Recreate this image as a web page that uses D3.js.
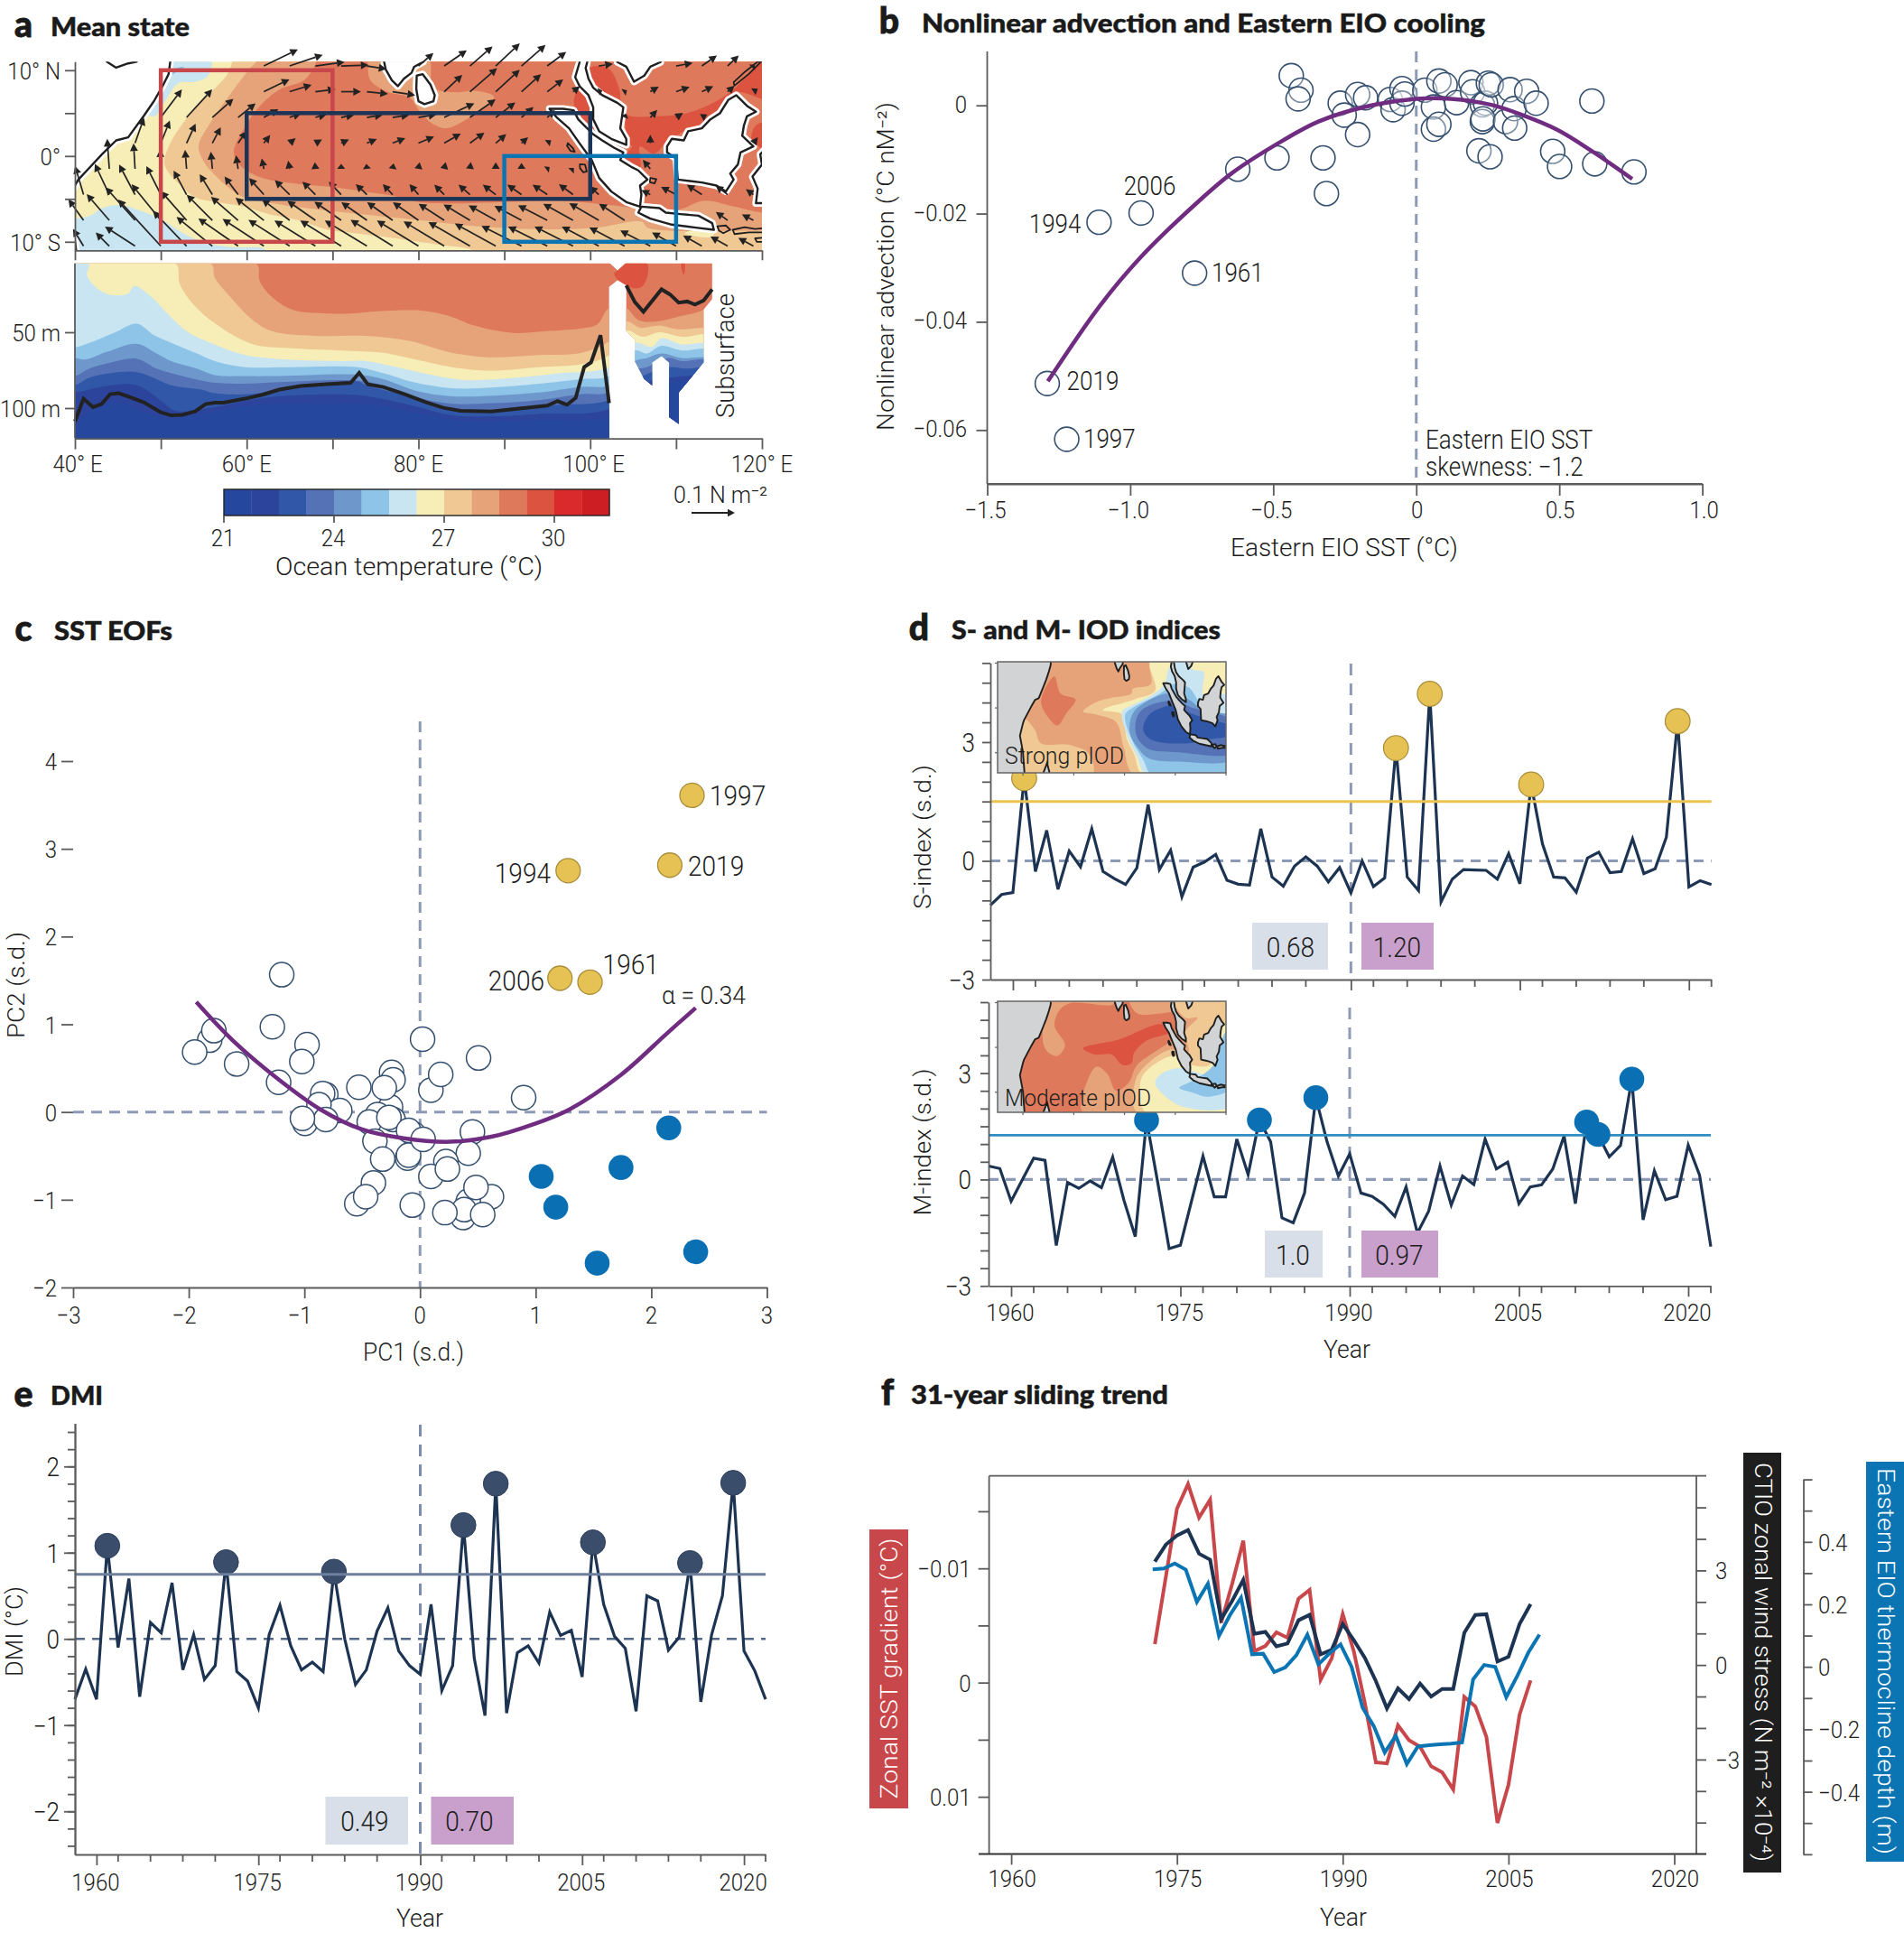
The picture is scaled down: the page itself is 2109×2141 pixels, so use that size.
<!DOCTYPE html>
<html><head><meta charset="utf-8">
<script src="https://cdn.jsdelivr.net/npm/d3@7/dist/d3.min.js"></script>
<style>html,body{margin:0;padding:0;background:#fff}svg{display:block}text{font-family:Roboto,"Noto Sans",sans-serif;font-weight:300;fill:#1c1c1c}</style>
</head><body><svg id="c" width="2109" height="2141" viewBox="0 0 2109 2141"></svg>
<script>
const n=null;
// ---------- colour scale
const tempColors=["#26479e","#2c449b","#3158a8","#5472b5","#6e97cc","#8ec4e8","#c8e5f1","#f6edb7","#efc893","#e6a279","#df795c","#dc5440","#da2a2b","#cc1e23"];
const tempStart=21, tempStep=0.75, tempTicks=[21,24,27,30];
const [cDeep,cDark,cB3,cB4,cB5,cSky,cPale,cYel,cTan,cOra,cRed,cHot]=tempColors;
// ---------- panel a: map bands (lon,lat)
const mapPaleSW=[[38,-7.3],[40,-7.3],[41.8,-6.95],[43.2,-6.07],[45.3,-5.72],[47.75,-6.42],[50.2,-7.47],[52.67,-9.05],[55.1,-10.1],[58.3,-10.63],[62.1,-10.88],[62.1,-12],[38,-12]];
const mapPaleNW=[[52,12],[55.8,12],[55.5,9.37],[54.07,8.67],[52,8.46],[50.6,6.56],[49.2,4.63],[47,6]];
const mapSkyNW=[[50.6,8.85],[52.7,10.4],[51.5,10],[49.5,7]];
const mapTan=[[58.3,12],[58.3,11],[57.75,9.54],[56.2,7.79],[54.07,5.68],[52.67,3.93],[51.26,1.82],[50.4,-.63],[50.74,-1.68],[52.3,-3.44],[54.07,-4.84],[56.5,-5.37],[59.7,-5.9],[62.5,-6.77],[66,-7.47],[69.5,-8.6],[73,-9.05],[77.2,-9.58],[80.7,-10.1],[83.2,-10.45],[86.3,-11],[87,-12],[125,-12],[125,12]];
const mapOrange=[[61.1,12],[61.1,11],[60.4,10.25],[57.75,6.74],[55.8,3.93],[54.4,1.12],[55.1,-.81],[55.8,-1.68],[57.6,-3.44],[59.7,-4.84],[63.2,-5.54],[69.9,-6.42],[80,-7.47],[86.7,-8.18],[93.7,-8.53],[100.7,-8.35],[106,-7.65],[106.7,-8.35],[120,-8.7],[125,-8.7],[125,12]];
const mapRed=[[68.1,12],[68.1,11],[66.7,8.84],[63.9,7.79],[61.4,5.68],[59.7,3.23],[58.5,.42],[59.3,-1.16],[61.8,-2.56],[66,-3.26],[69.9,-3.61],[73.7,-4.14],[77.2,-4.67],[80,-5.37],[83.2,-5.54],[90.2,-5.37],[95.4,-5.19],[100.7,-5.54],[105.6,-6.07],[110.2,-6.25],[113.3,-5.2],[116.8,-5.9],[120,-6.6],[125,-6.6],[125,12]];
const mapOrangeLobe=[[74.1,12],[74.1,11],[74.4,8.84],[76.5,7.44],[79,6.8],[80,5.4],[81.4,3.93],[83.2,3.23],[85.6,4.28],[87.7,5.68],[88.8,6.9],[86.7,7.6],[84.2,7.44],[81.75,8],[81,12]];
const mapHotA=[[98.1,6.56],[98.8,7.8],[100,7.1],[100,4.3],[101.05,2.53],[98.6,4.8]];
const mapHotB=[[100,10.25],[102.1,10.25],[103.4,7.8],[103.6,6.2],[104.4,4.8],[107.7,4.63],[111.2,4.98],[114.7,6.4],[116.9,7.95],[119.5,10.7],[120,11],[122,11],[122,6.4],[117.2,7.44],[116.1,6.74],[113.3,3.93],[111.2,3.05],[108.8,1.47],[107.4,.25],[105.8,1.1],[105.8,-1.33],[103.9,-.1],[104.9,1.12],[104.2,1.47],[104,3.93],[101.1,7.5]];
const mapHotC=[[119.3,3.58],[120.5,3.9],[120.5,.8],[118.8,1.9]];
const mapHotD=[[105.6,-3],[106.6,-4.2],[105.6,-5.8],[105,-5.8]];
const mapYellowE=[[111,-9],[113,-8.5],[114.4,-8.7],[114.2,-9.4],[112,-9.3]];
// ---------- coasts (lon,lat)
const coastAfrica=[[51.1,12],[51.1,11],[50.9,9.54],[50.2,8.14],[49.2,6.4],[48.1,4.8],[46.2,2.18],[44.8,1.82],[43.2,.25],[41.4,-1.68],[40.4,-2.74],[40,-3.44],[38.8,-6.2],[40,-9.9],[40.6,-14.5],[40.6,-17],[20,-17],[20,12]];
const coastArabia=[[43.7,11],[44.8,10.3],[46.2,10.8],[47.2,11],[47.2,12],[43.7,12]];
const coastIndia=[[76,12],[76,11],[76.2,10.07],[76.9,8.84],[77.6,8.14],[78.3,9],[79.2,9.7],[79.5,10.4],[80.6,11],[80.6,12]];
const coastLanka=[[79.8,9.37],[80.5,9.54],[81.4,8.32],[81.9,7.09],[81.75,6.39],[80.7,6.04],[80,6.39],[79.75,7.79]];
const coastSumatra=[[95.26,5.51],[96.14,4.46],[97.54,3.23],[98.77,1.47],[100.18,-.46],[101.05,-2.56],[102.46,-4.14],[104.2,-5.37],[105.8,-5.9],[105.96,-4.49],[105.8,-3.44],[106.67,-2.74],[105.6,-1.68],[104.9,-1.33],[103.5,-.46],[103.86,.42],[102.8,.95],[101.4,1.82],[100.35,2.53],[99.3,3.58],[98.6,4.28],[98.07,5.33],[96.84,5.51]];
const coastMalay=[[98.77,12],[98.77,10.95],[98.25,9.19],[98.77,8.14],[99.8,7.09],[100.35,5.68],[100.35,4.28],[101.05,2.88],[102.46,2],[104.2,1.3],[104.2,2],[103.5,3.23],[103.86,5.68],[103.16,6.2],[101.4,7.09],[100.35,7.96],[99.8,9],[99.47,10.25],[99.65,10.95],[99.65,12]];
const coastIndochina=[[103.16,12],[103.16,10.95],[104.2,10.42],[105.1,8.67],[106.3,9.37],[107,10.42],[108.2,10.95],[108.2,12]];
const coastBorneo=[[108.95,1.12],[109.5,2],[110.9,1.82],[111.4,2.88],[113,3.23],[114,4.28],[115.1,4.98],[116.1,6.56],[117,7.09],[118.25,5.86],[119.3,5.16],[118.25,4.63],[117.9,3.58],[117.7,2.35],[119,1.12],[117.5,.42],[117.2,-.98],[116.3,-2.04],[116.7,-2.74],[115.8,-4.14],[114.7,-3.44],[113,-3.09],[111.6,-2.91],[110.2,-2.74],[110,-.28],[108.95,.42]];
const coastJava=[[105.6,-6.6],[105.96,-5.9],[108.07,-6.07],[108.8,-6.6],[110.5,-6.77],[112.6,-6.95],[114.2,-7.82],[114.4,-8.6],[112.3,-8.35],[109.5,-8],[107,-7.3],[106.3,-6.95]];
const coastBali=[[114.8,-8.2],[115.8,-8.1],[116.3,-8.6],[115.5,-9],[115,-8.7]];
const coastFlores=[[116.6,-8.6],[118,-8.3],[119.2,-8.5],[120.5,-8.4],[120.5,-8.9],[118.5,-8.9],[116.8,-9.1]];
const coastSumba=[[119.2,-9.6],[120.5,-9.5],[120.5,-10],[119.4,-10]];
const coastBanka=[[107,-2.55],[107.7,-2.7],[107.5,-3.2],[106.95,-3.05]];
const coastSiberut=[[97.4,1.5],[98,.9],[98.2,.5],[97.7,.6],[97.3,1.2]];
const coastNias=[[98.8,-.95],[99.4,-1],[99.6,-1.8],[99.2,-1.9],[98.8,-1.4]];
const coastPalawan=[[116.8,8.2],[118.5,9.6],[119.9,11],[119.5,11],[118,9.8],[116.7,8.6]];
const coastSulawesi=[[120.5,.9],[119.8,.2],[120,-1],[118.9,-2.4],[119.5,-3.8],[119.3,-5.5],[122,-5.5],[122,.9]];
const islets=[coastSiberut,coastNias,coastBanka,coastBali,coastFlores,coastSumba,coastPalawan,coastLanka];
const landMain=[coastAfrica,coastArabia,coastIndia,coastSumatra,coastMalay,coastIndochina,coastBorneo,coastJava,coastSulawesi];
// ---------- wind stress, columns every 3 deg, units 0.1/144 N m-2
const windLons=[41,44,47,50,53,56,59,62,65,68,71,74,77,80,83,86,89,92,95,98,101,104,107,110,113,116,119];
const windLats=[10.5,7.5,4.5,1.5,-1.5,-4.5,-7.5,-10.5];
const windRef=144;
const windU=[
[n,n,n,n,n,n,n,113,110,97,91,65,n,50,75,75,80,80,63,n,47,n,n,55,50,37,5],
[n,n,n,n,n,n,n,85,73,67,66,70,75,n,60,90,80,65,53,23,12,8,28,45,38,23,15],
[n,n,n,70,85,70,58,48,38,37,43,52,55,60,100,85,65,40,25,n,n,5,23,23,18,n,n],
[n,n,30,30,30,28,28,21,20,22,26,33,42,52,55,48,35,22,13,n,n,n,0,n,n,n,15],
[n,-7,-5,-2,-5,-5,-7,-7,-5,-2,0,-2,3,4,5,3,0,0,8,3,n,n,-25,n,n,n,n],
[-28,-48,-53,-48,-43,-42,-45,-49,-49,-43,-41,-37,-33,-30,-33,-38,-43,-47,-49,-47,-30,n,-30,-50,-50,-40,-25],
[-50,-75,-98,-97,-85,-85,-90,-94,-92,-93,-89,-85,-85,-85,-85,-88,-90,-90,-97,-99,-98,-85,n,n,n,-39,-38],
[-35,-45,-100,-142,-112,-119,-132,-137,-137,-136,-136,-140,-140,-138,-135,-138,-136,-133,-130,-128,-123,-117,-100,-80,-62,-57,-50]];
const windV=[
[n,n,n,n,n,n,n,55,37,13,3,-10,n,43,52,65,75,70,47,n,7,n,n,10,35,35,5],
[n,n,n,n,n,n,n,41,23,8,0,-7,-12,n,56,78,73,58,41,18,3,5,17,16,18,20,10],
[n,n,n,93,93,62,47,27,13,10,8,8,8,10,47,60,50,35,25,n,n,13,25,15,10,n,n],
[n,n,85,75,65,53,40,27,17,12,12,14,17,22,32,35,30,20,10,n,n,n,28,n,n,n,20],
[n,100,85,65,63,57,45,35,27,22,17,17,18,22,23,23,22,20,6,3,n,n,30,n,n,n,n],
[95,102,100,95,80,68,60,55,48,43,43,35,35,35,33,33,33,33,33,35,28,n,15,26,33,30,18],
[70,87,110,120,97,85,78,75,70,65,62,60,60,60,55,53,50,48,50,55,57,55,n,n,n,28,20],
[57,45,65,155,117,97,92,90,87,85,85,85,87,85,82,80,75,67,65,65,65,62,52,45,35,32,27]];
const boxRed=[50,70,-10,10], boxNavy=[60,100,-5,5], boxBlue=[90,110,-10,0];
// ---------- panel a: subsurface section (lon,depth)
const secOutline=[[40,4.6],[102.3,4.6],[103.2,9.2],[104.1,4.6],[114.2,4.6],[114.2,28.1],[113.2,35.1],[113.2,70],[110.3,89.8],[110.3,110.4],[109.2,106.0],[109.2,70],[108.3,65.6],[107.2,70],[107.2,84.9],[106.3,80.9],[105.2,69],[105.2,55],[104.2,49],[104.2,19.1],[103.2,15.6],[102.2,20.1],[102.2,120],[40,120]];
const secHotA=[[104,4.6],[106.6,4.6],[106.7,12.2],[106,20.1],[105,21],[104.2,19.1],[103.2,15.6],[102.8,11],[103.2,9.2]];
const secHotB=[[110.6,4.6],[111,4.6],[110.9,12.2],[110.7,9.5]];
const secOrange=[[61.1,4.6],[61.5,16.1],[62.8,26.1],[65.3,35.1],[68.8,37.5],[72.1,37.6],[75.4,36.1],[80.4,35.7],[83.4,39],[86.5,45.6],[91,50.4],[95.5,49],[99,47.4],[100.8,45],[102.2,34.1],[104.2,34.1],[105.6,42],[107.6,43],[110.1,40],[113.2,35.1],[114.6,28.1],[115,125],[38,125],[38,4.6]];
const secTan=[[55.8,4.6],[56.3,14.1],[58,26.1],[60.3,40],[62.8,49],[67.8,52.4],[73.9,52.4],[78.9,55.6],[83.9,63.5],[88.2,66.5],[94,65],[99,63.5],[102.2,56],[104.2,43],[105.8,47],[108.1,45.6],[110.1,48],[113.2,47],[114.6,47],[115,125],[38,125],[38,4.6]];
const secYellow=[[51.7,4.6],[52.2,18.1],[54.2,34.1],[57.3,48],[60.8,58],[64.8,60.4],[70.9,62],[75.9,63.5],[78.9,67],[83.9,73],[88.2,75.3],[94,73],[99,71],[102.2,65],[104.2,49],[106.1,53],[108.1,50],[110.6,53],[114.6,53],[115,125],[38,125],[38,4.6]];
const secPale=[[41.6,4.6],[41.4,12.2],[42.2,19.1],[43.9,25.1],[46.2,24.5],[46.9,19.5],[49,27.1],[50.5,36.1],[53.2,50],[55.8,57],[59.8,65],[64.8,68],[70.9,69],[73.9,69],[76.9,72.3],[81.4,78],[85.4,81.5],[91.5,79.9],[96.5,76.9],[102.2,73],[105.2,57],[107.2,59.6],[108.3,54],[110.6,58],[114.6,59],[115,125],[38,125],[38,4.6]];
const secSky=[[38,60],[40,60],[41.7,57],[44.7,50],[47.2,44.4],[49.2,52],[51.2,57],[54.2,64],[56.3,69],[59.8,73],[64.8,73],[72.9,73],[75.9,77],[79.4,82.9],[83.9,86.9],[88.9,86.3],[94,83.9],[99,80.9],[102.2,78.9],[105.2,62],[106.6,64],[108.3,59],[110.6,62],[114.6,63],[115,125],[38,125]];
const secMid=[[38,67],[40,67],[41.2,68],[43.7,63],[47.2,57.6],[49.5,64],[51.2,69],[54.2,74],[56.3,78.3],[59.8,78.9],[63.8,78.9],[72.9,78],[75.9,80.9],[79.9,88.8],[83.9,92.2],[88.9,91.8],[94,89.8],[99,86],[102.2,84.9],[105.2,69],[106.6,67],[108.3,64],[110.6,67],[114.6,69],[115,125],[38,125]];
const secB4=[[38,79],[40,78.9],[41.7,74],[44.2,70],[47.2,67.5],[49.5,74],[51.2,77],[54.7,81.9],[56.3,83.3],[59.8,83.9],[63.8,82.9],[72.9,81.9],[76.4,85.9],[80.4,93.8],[83.9,97.2],[88.9,96.8],[94,94.8],[99,90.8],[102.2,89.8],[105.2,75],[106.6,73],[109.1,67],[110.6,69],[114.6,70],[115,125],[38,125]];
const secB3=[[38,85],[40,84.9],[41.7,79.9],[44.2,76.9],[47.2,76.3],[49.5,80.9],[51.2,84.9],[54.7,87.8],[56.3,90.2],[60.3,90.8],[64.8,86.9],[68.8,83.9],[72.9,82.3],[73.9,84.9],[77.9,90.8],[81.4,97.8],[86.5,101.8],[91.5,99.2],[96.5,97.8],[102.2,94.8],[106.1,78.9],[109.1,73],[111.1,74],[114.6,75],[115,125],[38,125]];
const secDark=[[38,90],[40,89.8],[43.2,85.9],[47.2,84.9],[50.2,95.8],[51.7,101.8],[55.8,99.8],[61.3,93.8],[66.8,91.2],[72.9,91.4],[78.9,97.8],[83.9,104.8],[88.9,105.4],[94,103.8],[102.2,100.8],[108.1,78.9],[109.1,79.9],[111.1,78.9],[114.6,79.9],[115,125],[38,125]];
const secDeep=[[38,115],[40,112.7],[41.7,101.8],[44.7,95.8],[47.7,101.8],[50.7,106.8],[55.8,102.8],[61.3,97.8],[68.8,97.2],[74.9,97.8],[81.9,105.8],[86.5,108.8],[94,107.8],[102.2,105.8],[109.1,83.9],[114.6,83.9],[115,125],[38,125]];
const thermoMain=[[40,108.8],[41,93.8],[42.1,99.4],[43.1,97.4],[44.1,90.8],[45.1,90.2],[46.2,92.4],[48,96.2],[50,102.8],[51.2,104.8],[52.5,104.4],[54,102.2],[55.2,97.4],[56.3,96.4],[57.3,96.4],[59.8,93.8],[61.8,91.2],[63.8,87.8],[66.3,85.4],[69.3,84.2],[72.1,83.3],[73.1,76.7],[74.1,84.3],[75.9,86.1],[78.4,90.8],[80.9,96.2],[82.9,99.8],[84.9,101.8],[88.5,102.2],[92,100.2],[95,98.4],[96.2,95.4],[97.3,97.8],[98.3,93.4],[99.3,72.9],[100.1,69.9],[101.2,52],[102.2,96.8]];
const thermoEast=[[104.2,19.1],[105.2,30.1],[106.2,36.5],[108.3,21.7],[109.3,25.1],[110.3,30.5],[111.3,29.7],[112.2,31.7],[113.2,29.1],[114.2,21.7]];
// ---------- panel b
const bYears=[[-1.109,-.0216,"1994"],[-.962,-.0199,"2006"],[-.775,-.031,"1961"],[-1.29,-.0514,"2019"],[-1.222,-.0617,"1997"]];
const bOther=[[-.437,.0055],[-.403,.0028],[-.413,.0012],[-.266,.0004],[-.252,-.0018],[-.205,.002],[-.177,.0014],[-.205,-.0054],[-.624,-.0118],[-.487,-.0097],[-.326,-.0097],[-.314,-.0163],[-.091,.0011],[-.081,-.0008],[-.05,.0031],[-.05,.0004],[-.04,.0021],[.03,.0028],[.06,-.0003],[.06,-.0044],[.079,-.0035],[.079,.0045],[.101,.0038],[.141,.0005],[.191,.0042],[.197,.0025],[.231,.0001],[.242,.0004],[.231,-.003],[.233,-.0025],[.252,.0041],[.262,.0038],[.312,-.003],[.328,.0029],[.342,-.0006],[.344,-.0042],[.386,.0026],[.419,.0004],[.219,-.0084],[.258,-.0095],[.477,-.0085],[.501,-.0113],[.614,.0008],[.624,-.0108],[.761,-.0123]];
const bCurve=[[-1.288,-.051],[-1.107,-.0371],[-.966,-.0282],[-.775,-.0184],[-.644,-.0125],[-.473,-.0067],[-.342,-.003],[-.181,-.0003],[0,.0012],[.121,.0012],[.262,.0001],[.362,-.0016],[.493,-.0045],[.624,-.0088],[.755,-.0136]];
// ---------- panel c
const cYellow=[[2.352,3.61],[2.16,2.814],[1.281,2.751],[1.21,1.525],[1.47,1.48]];
const cBlue=[[2.151,-.181],[1.738,-.633],[1.048,-.734],[1.174,-1.085],[1.532,-1.723],[2.384,-1.593]];
const cWhite=[[-1.196,1.565],[-1.277,.972],[-1.819,.819],[-1.783,.927],[-1.949,.684],[-1.586,.548],[-.977,.768],[-1.022,.576],[-1.223,.339],[-.815,.198],[-.842,.209],[-.694,.017],[-.874,.085],[-.995,-.13],[-.815,-.085],[-1.017,-.073],[-.529,.282],[-.246,.452],[-.233,.367],[-.255,.056],[-.309,.277],[-.367,-.028],[-.233,-.085],[-.439,-.113],[-.269,-.062],[-.39,-.333],[-.054,-.254],[-.099,-.209],[-.323,-.537],[-.108,-.525],[-.099,-.492],[.027,-.311],[.022,.831],[.094,.249],[.179,.429],[.506,.616],[.896,.164],[.453,-.226],[.417,-.469],[.224,-.565],[.094,-.734],[.237,-.65],[-.403,-.808],[-.547,-1.045],[-.47,-.966],[-.067,-1.062],[.618,-.966],[.417,-1.017],[.372,-1.203],[.381,-1.113],[.215,-1.147],[.484,-.859],[.542,-1.169]];
const cCurve=[[-1.935,1.254],[-1.622,.819],[-1.219,.367],[-.86,.028],[-.502,-.198],[-.143,-.299],[.26,-.339],[.618,-.282],[.977,-.141],[1.29,.028],[1.738,.424],[2.142,.904],[2.384,1.186]];
// ---------- panels d,e time series, 1958-2022
const years=d3.range(1958,2023);
const sIndex=[-1.12,-.85,-.8,2.09,-.27,.77,-.72,.25,-.15,.81,-.27,-.45,-.6,-.18,1.42,-.22,.27,-.91,-.16,-.03,.16,-.49,-.59,-.61,.81,-.41,-.64,-.13,.1,-.13,-.53,-.17,-.81,0,-.65,-.43,2.85,-.41,-.75,4.22,-1.04,-.46,-.22,-.23,-.24,-.46,.18,-.58,1.93,.43,-.41,-.43,-.79,.07,.22,-.3,-.27,.56,-.32,-.2,.6,3.53,-.66,-.5,-.6];
const mIndex=[.38,.31,-.61,0,.6,.54,-1.86,-.08,-.25,-.04,-.23,.63,-.59,-1.61,1.67,-.1,-1.95,-1.85,-.59,.66,-.49,-.49,1.14,.14,1.68,1.06,-1.08,-1.22,-.38,2.31,1.06,.1,.72,-.38,-.48,-.7,-1.04,-.21,-1.51,-.89,.38,-.72,.1,-.14,1.14,.3,.49,-.68,-.21,-.15,.3,1.23,-.68,1.62,1.27,.64,.96,2.83,-1.14,.25,-.57,-.47,.97,.13,-1.89];
const dmi=[-.7,-.35,-.7,1.08,-.1,.7,-.67,.19,.07,.65,-.36,.05,-.47,-.31,.89,-.38,-.49,-.8,.05,.39,-.08,-.36,-.27,-.38,.78,0,-.53,-.36,.09,.36,-.14,-.31,-.41,.4,-.6,-.31,1.32,-.22,-.89,1.8,-.86,-.16,-.08,-.28,.31,.04,.1,-.44,1.12,.4,.03,-.11,-.84,.5,.44,-.13,.02,.88,-.73,.05,.5,1.81,-.14,-.37,-.7];
const sEvents=[1961,1994,1997,2006,2019], mEvents=[1972,1982,1987,2011,2012,2015], dmiEvents=[1961,1972,1982,1994,1997,2006,2015,2019];
const sThreshold=1.5, mThreshold=1.25, dmiThreshold=.75;
const yearTicksMajor=[1960,1975,1990,2005,2020];
const yearTicksMinor=[1962,1965,1968,1971,1977,1980,1983,1986,1992,1995,1998,2001,2007,2010,2013,2016,2022];
// ---------- panel f
const fYears=d3.range(1973,2008);
const sstGrad=[-.00337,-.0093,-.01523,-.01738,-.01445,-.01601,-.00524,-.00867,-.01242,-.00275,-.00321,-.0044,-.00393,-.00736,-.00811,-.00025,-.00212,-.00599,-.00275,.00178,.00699,.00708,.00374,.00505,.00562,.00733,.00786,.00936,.00125,.00209,.00474,.01229,.00895,.00281,-.00019];
const ctio=[3.28,3.82,4.11,4.28,3.53,3.34,1.45,2.04,2.7,.99,1.05,.59,.68,1.42,1.59,.34,.48,1.3,.79,.23,-.51,-1.38,-.74,-1.08,-.59,-1,-.76,-.76,1.02,1.59,1.61,.11,.26,1.3,1.93];
const thermoYears=d3.range(1972.8,2008.3,1);
const thermoDepth=[.312,.315,.331,.311,.208,.266,.099,.166,.221,.04,.042,-.017,-.002,.037,.103,.008,.043,.072,0,-.131,-.189,-.274,-.221,-.311,-.255,-.251,-.248,-.246,-.242,-.04,.006,0,-.097,-.029,.046,.103];
// ---------- insets
const insS={red:[[52.4,7],[54.8,3.2],[60.7,1.9],[57.2,-1.1],[53.6,-3.9],[50.1,-2.2],[47.1,1.6]],
tanW:[[40.6,-2.5],[44.7,-4.9],[47.1,-7.9],[57.8,-8.2],[66.1,-10.3],[67.3,-15],[38.8,-15],[37.6,-6.2]],
tanE:[[90.4,10.7],[90.4,5.3],[83.2,4.3],[82.7,3.2],[74.4,2.2],[68.4,1.2],[63.7,-.8],[69,-1.5],[76.7,-3.2],[79.7,-8.9],[83.8,-15],[123,-15],[123,10.7]],
yel:[[90.4,10.7],[92.1,3.9],[83.8,1.9],[71.4,-.5],[79.1,-1.5],[80.9,-6.9],[83.8,-10.3],[87.4,-15],[123,-15],[123,10.7]],
pale:[[88.6,-15],[85,-10.9],[81.5,-6.9],[79.1,-.8],[82.7,.5],[90.9,2.9],[95.7,5.3],[98,9.3],[104,10.7],[106.9,8.6],[111.1,8],[111.1,2.9],[120,3.2],[123,3.2],[123,-15]],
sky:[[90.9,-15],[87.4,-11.6],[82.7,-6.9],[80.3,-1.5],[83.8,.2],[92.1,2.6],[95.7,3.9],[99.2,5.3],[105.2,4.6],[108.7,1.9],[114.6,-4.2],[123,.5],[123,-15]],
mid:[[83.8,-.8],[82.1,-5.5],[86.2,-9.6],[89.8,-11.3],[101.6,-12],[123,-11.3],[123,-2.2],[114.6,-.8],[108.7,.5],[105.2,1.9],[99.2,2.6],[96.3,3.2]],
b4:[[86.2,-.8],[84.4,-5.5],[88.6,-8.9],[101.6,-9.9],[123,-9.9],[123,-3.2],[107.5,-.1],[98.1,1.6]],
b3:[[89.8,-1.5],[87.4,-4.9],[90.9,-7.2],[105.2,-7.9],[111.1,-7.2],[123,-5.9],[123,-4.5],[107.5,-1.5],[101.6,-.1],[98.1,.5]]};
const insM={oraNW:[[51.3,10.9],[75.5,10.9],[75.5,9.6],[59,9.9],[54.8,8.6],[52.4,4.9],[56.6,.5],[53.6,-1.9],[49.5,-.9],[47.7,2.2]],
oraS:[[63.7,-14.7],[65.5,-7.3],[69,-4.3],[73.2,-5.9],[76.7,-9.7],[81.5,-8],[85,-3.9],[93.3,-.5],[99.2,2.2],[99.2,7.6],[94.5,7.6],[85,7.6],[82.1,10.9],[123,10.9],[123,-14.7]],
deep:[[63.7,-.2],[77.9,1.8],[94.5,5.2],[98.1,3.5],[88.6,1.5],[83.8,-1.2],[82.7,-3.6],[79.1,-3.9],[75,-1.6],[68.4,-1.6]],
tan:[[85,-14.7],[84.4,-7.3],[88.6,-3.9],[98.1,-.5],[105.2,-1.2],[104,3.5],[108.7,6.6],[104,6.6],[99.2,10.9],[123,10.9],[123,-14.7]],
yel:[[88.6,-14.7],[86.2,-8],[88.6,-5.3],[99.2,-1.9],[106.4,-3.9],[113.5,-3.9],[118.2,4.2],[123,5.5],[123,-14.7]],
pale:[[95.7,-10.7],[92.1,-8],[94.5,-5.9],[101.6,-4.6],[106.4,-5.3],[113.5,-5.9],[120,-.5],[123,.8],[123,-12.7],[104,-13.4]],
sky:[[101.6,-9],[106.4,-7.6],[115.2,-3.9],[120,3.5],[123,3.5],[123,-8.6],[113.5,-11],[106.4,-10]]};

// ================= drawing helpers
const svg=d3.select("#c");
const GREY="#5b5b5b";
function T(g,x,y,s,o={}){const fs=o.w||o.b?(o.fs||24):(o.fs||24)*1.1;const t=g.append("text").attr("x",x).attr("y",y).attr("dominant-baseline","central").attr("text-anchor",o.a||"middle").attr("font-size",fs).text(s);
 if(o.b)t.style("font-family",'Lato,Roboto,sans-serif').style("font-weight",900).style("fill","#1a1a1a").style("stroke","#1a1a1a").style("stroke-width",o.sw||.5);
 if(o.w){t.attr("textLength",o.w).attr("lengthAdjust","spacingAndGlyphs");}
 else if(!o.b){const len=t.node().getComputedTextLength();t.attr("textLength",len*.91).attr("lengthAdjust","spacingAndGlyphs");}
 if(o.fill)t.style("fill",o.fill);
 if(o.r!=null)t.attr("transform",`rotate(${o.r} ${x} ${y})`);
 return t;}
function title(letter,lx,ttl,tx,tw,y){T(svg,lx,y-2,letter,{b:1,fs:39,a:"middle",sw:.9});T(svg,tx,y,ttl,{b:1,fs:29,a:"start",w:tw});}
const lin=(x,y)=>d3.line().x(d=>x(d[0])).y(d=>y(d[1]));
const closed=(x,y)=>d3.line().x(d=>x(d[0])).y(d=>y(d[1])).curve(d3.curveCatmullRomClosed.alpha(.5));
function L(g,x1,y1,x2,y2,c=GREY,w=1.8,dash){const l=g.append("line").attr("x1",x1).attr("y1",y1).attr("x2",x2).attr("y2",y2).attr("stroke",c).attr("stroke-width",w);if(dash)l.attr("stroke-dasharray",dash);return l;}
function styleAxis(g,w=1.8){g.selectAll("path,line").attr("stroke",GREY).attr("stroke-width",w);g.selectAll("text").remove();}
const fmtMinus=s=>String(s).replace("-","−");

// ================= panel a
title("a",26,"Mean state",56,154,28);
const mx=d3.scaleLinear([40,120],[83,844]), my=d3.scaleLinear([11,-11],[68.3,277.3]);
const defs=svg.append("defs");
defs.append("clipPath").attr("id","mapclip").append("rect").attr("x",mx(40)).attr("y",my(11)).attr("width",mx(120)-mx(40)).attr("height",my(-11)-my(11));
const mapG=svg.append("g").attr("clip-path","url(#mapclip)");
mapG.append("rect").attr("x",mx(40)).attr("y",my(11)).attr("width",mx(120)-mx(40)).attr("height",my(-11)-my(11)).attr("fill",cYel);
const pm=closed(mx,my);
[[mapPaleSW,cPale],[mapPaleNW,cPale],[mapSkyNW,cSky],[mapTan,cTan],[mapOrange,cOra],[mapRed,cRed],[mapOrangeLobe,cOra],[mapHotA,cHot],[mapHotB,cHot],[mapHotC,cHot],[mapHotD,cHot],[mapYellowE,cYel]].forEach(([p,c])=>mapG.append("path").attr("d",pm(p)).attr("fill",c));
const lm=lin(mx,my);
[...landMain,...islets].forEach(p=>{const small=islets.includes(p)&&p!==coastLanka;mapG.append("path").attr("d",lm(p)+"Z").attr("fill",small?"none":"#fff").attr("stroke",small?"none":"#fff").attr("stroke-width",8).attr("stroke-linejoin","round");});
[...landMain,...islets].forEach(p=>{const small=islets.includes(p)&&p!==coastLanka;mapG.append("path").attr("d",lm(p)+"Z").attr("fill",small?"none":"#fff").attr("stroke","#1f1f1f").attr("stroke-width",small?1.8:2.4).attr("stroke-linejoin","round");});
// arrows
const windLen=d3.scaleLinear([0,windRef],[0,48]);
function arrow(g,x0,y0,dx,dy,w=1.7,h=8.5){const len=Math.hypot(dx,dy);if(len<.5)return;const ux=dx/len,uy=dy/len;const hl=Math.min(h,Math.max(len,4.5));const tx=x0+dx,ty=y0+dy;const bx=tx-ux*hl,by=ty-uy*hl;
 if(len>hl)g.append("line").attr("x1",x0).attr("y1",y0).attr("x2",bx).attr("y2",by).attr("stroke","#222").attr("stroke-width",w);
 const hw=h*.52;g.append("path").attr("d",`M${tx},${ty}L${bx-uy*hw},${by+ux*hw}L${bx+uy*hw},${by-ux*hw}Z`).attr("fill","#222");}
const windG=svg.append("g");
windLats.forEach((la,i)=>windLons.forEach((lo,j)=>{const u=windU[i][j],v=windV[i][j];if(u===n||v===n)return;arrow(windG,mx(lo),my(la),windLen(u),-windLen(v));}));
[[boxRed,"#c8474a"],[boxNavy,"#1c3557"],[boxBlue,"#0b75b4"]].forEach(([b,c])=>svg.append("rect").attr("x",mx(b[0])).attr("y",my(b[3])).attr("width",mx(b[1])-mx(b[0])).attr("height",my(b[2])-my(b[3])).attr("fill","none").attr("stroke",c).attr("stroke-width",4.5));
// map axes
svg.append("g").attr("transform",`translate(${mx(40)},0)`).call(d3.axisLeft(my).tickValues([10,5,0,-5,-10]).tickSize(11).tickSizeOuter(0)).call(styleAxis);
svg.append("g").attr("transform",`translate(0,${my(-11)})`).call(d3.axisBottom(mx).tickValues(d3.range(40,121,10)).tickSize(11).tickSizeOuter(0)).call(styleAxis);
[[10,"10° N"],[0,"0°"],[-10,"10° S"]].forEach(([v,s])=>T(svg,67,my(v)+1,s,{a:"end",fs:24}));
// section
const sx=mx, sy=d3.scaleLinear([0,120],[284,485.6]);
defs.append("clipPath").attr("id","secclip").append("path").attr("d",lin(sx,sy)(secOutline)+"Z");
const secG=svg.append("g").attr("clip-path","url(#secclip)");
secG.append("rect").attr("x",sx(38)).attr("y",sy(0)).attr("width",800).attr("height",210).attr("fill",cRed);
const ps=closed(sx,sy);
[[secOrange,cOra],[secTan,cTan],[secYellow,cYel],[secPale,cPale],[secSky,cSky],[secMid,cB5],[secB4,cB4],[secB3,cB3],[secDark,cDark],[secDeep,cDeep],[secHotA,cHot],[secHotB,cHot]].forEach(([p,c])=>secG.append("path").attr("d",ps(p)).attr("fill",c));
const ls=lin(sx,sy);
[thermoMain,thermoEast].forEach(p=>svg.append("path").attr("d",ls(p)).attr("fill","none").attr("stroke","#222").attr("stroke-width",4));
svg.append("g").attr("transform",`translate(${mx(40)},0)`).call(d3.axisLeft(sy).tickValues([50,100]).tickSize(11).tickSizeOuter(0)).call(g=>{styleAxis(g);g.select(".domain").attr("d",`M0,${sy(4.6)}V${sy(120)}`);});
svg.append("g").attr("transform",`translate(0,${sy(120)})`).call(d3.axisBottom(mx).tickValues(d3.range(40,121,10)).tickSize(12).tickSizeOuter(0)).call(styleAxis);
T(svg,67,sy(50)+1,"50 m",{a:"end",fs:24});T(svg,67,sy(100)+1,"100 m",{a:"end",fs:24});
[[40,"40° E"],[60,"60° E"],[80,"80° E"],[100,"100° E"],[120,"120° E"]].forEach(([v,s])=>T(svg,mx(v)+(v==40?3:v==100?4:0),514,s,{fs:24}));
T(svg,804,394,"Subsurface",{fs:27,r:-90,w:138});
// colour bar
const cbx=d3.scaleLinear([21,30],[248,614]);
tempColors.forEach((c,i)=>svg.append("rect").attr("x",cbx(tempStart+i*tempStep)).attr("y",542).attr("width",cbx(tempStart+tempStep)-cbx(tempStart)+.3).attr("height",29).attr("fill",c));
svg.append("rect").attr("x",cbx(21)).attr("y",542).attr("width",cbx(31.5)-cbx(21)).attr("height",29).attr("fill","none").attr("stroke","#222").attr("stroke-width",1.4);
tempTicks.forEach(t=>{L(svg,cbx(t),571,cbx(t),579);T(svg,cbx(t)-1,596,t,{fs:24});});
T(svg,453,628,"Ocean temperature (°C)",{fs:27,w:296});
T(svg,798,548,"0.1 N m⁻²",{fs:26,w:104});
arrow(svg,766,568,windLen(windRef),0,1.8,8);

// ================= panel b
title("b",985,"Nonlinear advection and Eastern EIO cooling",1021,624,24);
const bx=d3.scaleLinear([-1.5,1],[1093.5,1885.6]), by=d3.scaleLinear([0,-.06],[116.7,476.3]);
const CIRC="#35506f";
L(svg,bx(0),57,bx(0),536,"#8d9ab5",3,"12 8");
[...bOther,...bYears].forEach(d=>svg.append("circle").attr("cx",bx(d[0])).attr("cy",by(d[1])).attr("r",13.4).attr("fill","#fff").attr("fill-opacity",.35).attr("stroke",CIRC).attr("stroke-width",1.6));
svg.append("path").attr("d",lin(bx,by).curve(d3.curveCatmullRom)(bCurve)).attr("fill","none").attr("stroke","#6f2c80").attr("stroke-width",4.5);
L(svg,1093.5,57,1093.5,536);
svg.append("g").attr("transform","translate(0,536)").call(d3.axisBottom(bx).tickValues([-1.5,-1,-.5,0,.5,1]).tickSize(13).tickSizeOuter(0)).call(styleAxis);
L(svg,1093.5,536,1885.6,536);
svg.append("g").attr("transform","translate(1093.5,0)").call(d3.axisLeft(by).tickValues([0,-.02,-.04,-.06]).tickSize(12).tickSizeOuter(0)).call(g=>{styleAxis(g);g.select(".domain").remove();});
[-1.5,-1,-.5,0,.5,1].forEach(v=>T(svg,bx(v)+(v<0?-2:v==1?2:1),565,v==0?"0":fmtMinus(v.toFixed(1)),{fs:24}));
[0,-.02,-.04,-.06].forEach(v=>T(svg,1071,by(v)-1,v==0?"0":fmtMinus(v.toFixed(2)),{a:"end",fs:24}));
T(svg,1489,607,"Eastern EIO SST (°C)",{fs:27,w:252});
T(svg,981,295,"Nonlinear advection (°C nM⁻²)",{fs:25,r:-90,w:364});
[["1994",1197.5,248,"end"],["2006",1273.5,206,"middle"],["1961",1342,302,"start"],["2019",1181.6,422,"start"],["1997",1200,485.6,"start"],["Eastern EIO SST",1579,486.5,"start"],["skewness: −1.2",1579,517,"start"]].forEach(([s,x,y,a])=>T(svg,x,y,s,{a,fs:26}));

// ================= panel c
title("c",26,"SST EOFs",60,131,697);
const px=d3.scaleLinear([-3,3],[81,849.5]), py=d3.scaleLinear([4,-2],[843,1426]);
L(svg,px(0),799,px(0),1426,"#8d9ab5",3,"12 8");
L(svg,px(-3),py(0),px(3),py(0),"#8d9ab5",3,"12 8");
cWhite.forEach(d=>svg.append("circle").attr("cx",px(d[0])).attr("cy",py(d[1])).attr("r",13.5).attr("fill","#fff").attr("stroke",CIRC).attr("stroke-width",1.5));
cYellow.forEach(d=>svg.append("circle").attr("cx",px(d[0])).attr("cy",py(d[1])).attr("r",13.5).attr("fill","#e6c255").attr("stroke","#a88d3b").attr("stroke-width",1.3));
cBlue.forEach(d=>svg.append("circle").attr("cx",px(d[0])).attr("cy",py(d[1])).attr("r",13.8).attr("fill","#0a70b3"));
svg.append("path").attr("d",lin(px,py).curve(d3.curveCatmullRom)(cCurve)).attr("fill","none").attr("stroke","#6f2c80").attr("stroke-width",4.5);
svg.append("g").attr("transform",`translate(0,1426)`).call(d3.axisBottom(px).tickValues(d3.range(-3,4)).tickSize(12).tickSizeOuter(0)).call(styleAxis);
svg.append("g").attr("transform",`translate(81,0)`).call(d3.axisLeft(py).tickValues(d3.range(-2,5)).tickSize(13).tickSizeOuter(0)).call(g=>{styleAxis(g);g.select(".domain").remove();});
d3.range(-3,4).forEach(v=>T(svg,px(v)+(v<0?-5:0),1457,fmtMinus(v),{fs:24}));
d3.range(-2,5).forEach(v=>T(svg,63,py(v)+1,fmtMinus(v),{a:"end",fs:24}));
T(svg,458,1498,"PC1 (s.d.)",{fs:27,w:112});
T(svg,18,1091,"PC2 (s.d.)",{fs:25,r:-90,w:118});
[["1997",786,881,"start"],["2019",762,959,"start"],["1994",610,967,"end"],["2006",603,1086,"end"],["1961",667.6,1068,"start"]].forEach(([s,x,y,a])=>T(svg,x,y,s,{a,fs:28}));
T(svg,779.5,1102,"α = 0.34",{fs:28,w:93});

// ================= panels d,e shared
function yearAxis(x,y0,maj=12,min=8){const g=svg.append("g").attr("transform",`translate(0,${y0})`);
 g.call(d3.axisBottom(x).tickValues(yearTicksMajor).tickSize(maj).tickSizeOuter(0)).call(styleAxis);
 yearTicksMinor.forEach(t=>L(g,x(t),0,x(t),min));}
function box(x0,x1,y0,y1,c,s,tx){svg.append("rect").attr("x",x0).attr("y",y0).attr("width",x1-x0).attr("height",y1-y0).attr("fill",c);T(svg,tx,(y0+y1)/2+1,s,{fs:28});}
const BOXG="#d8dfe8",BOXP="#c9a0cb",NAVY="#1c3352";
function series(x,y,vals,w=3.2){svg.append("path").attr("d",d3.line().x((d,i)=>x(years[i])).y(d=>y(d))(vals)).attr("fill","none").attr("stroke",NAVY).attr("stroke-width",w).attr("stroke-linejoin","miter");}
// ---- d top
title("d",1018,"S- and M- IOD indices",1054,298,696);
const dx1=d3.scaleLinear([1958,2022],[1097,1895.7]), dy1=d3.scaleLinear([-3,5],[1085,734.3]);
L(svg,dx1(1990),735,dx1(1990),1085,"#8d9ab5",3,"13 9");
L(svg,dx1(1958),dy1(0),dx1(2022),dy1(0),"#8d9ab5",3.2,"11 8");
series(dx1,dy1,sIndex);
sEvents.forEach(e=>svg.append("circle").attr("cx",dx1(e)).attr("cy",dy1(sIndex[years.indexOf(e)])).attr("r",13.8).attr("fill","#e6c255").attr("stroke","#a88d3b").attr("stroke-width",1.2));
L(svg,dx1(1958),dy1(sThreshold),dx1(2022),dy1(sThreshold),"#ebc44f",2.8);
yearAxis(dx1,1085);
svg.append("g").attr("transform",`translate(${dx1(1958)},0)`).call(d3.axisLeft(dy1).tickValues(d3.range(-3,5.01,.5)).tickSize(9).tickSizeOuter(0)).call(styleAxis);
[3,0,-3].forEach(v=>T(svg,1080,dy1(v)+1,fmtMinus(v),{a:"end",fs:26}));
T(svg,1022,927,"S-index (s.d.)",{fs:25,r:-90,w:160});
box(1387,1471,1022,1074,BOXG,"0.68",1429.5);box(1508,1588,1022,1074,BOXP,"1.20",1547.5);
// ---- d bottom
const dx2=d3.scaleLinear([1958,2022],[1095,1895]), dy2=d3.scaleLinear([-3,5],[1424.3,1110]);
L(svg,dx2(1990),1116,dx2(1990),1424,"#8d9ab5",3,"13 9");
L(svg,dx2(1958),dy2(0),dx2(2022),dy2(0),"#8d9ab5",3.2,"11 8");
series(dx2,dy2,mIndex);
L(svg,dx2(1958),dy2(mThreshold),dx2(2022),dy2(mThreshold),"#2f8fc2",2.8);
mEvents.forEach(e=>svg.append("circle").attr("cx",dx2(e)).attr("cy",dy2(mIndex[years.indexOf(e)])).attr("r",13.8).attr("fill","#0a70b3"));
yearAxis(dx2,1424.3);
svg.append("g").attr("transform",`translate(${dx2(1958)},0)`).call(d3.axisLeft(dy2).tickValues(d3.range(-3,5.01,.5)).tickSize(9).tickSizeOuter(0)).call(styleAxis);
[3,0,-3].forEach(v=>T(svg,1076,dy2(v)+1,fmtMinus(v),{a:"end",fs:26}));
T(svg,1022,1265,"M-index (s.d.)",{fs:25,r:-90,w:163});
box(1401,1465,1363,1415,BOXG,"1.0",1432);box(1508,1593,1363,1415,BOXP,"0.97",1550);
yearTicksMajor.forEach(v=>T(svg,dx2(v)-1,1454,v,{fs:24}));
T(svg,1492,1495,"Year",{fs:27,w:52});
// insets
const inMadagascar=[[47.7,-15],[49.5,-12.3],[50.7,-15]];
function inset(top,bands,label,lw,ly){const h=123,ix=d3.scaleLinear([30,120],[1105,1358]),iy=d3.scaleLinear([10.3,-14.5],[top,top+h]);
 const id="ins"+top;defs.append("clipPath").attr("id",id).append("rect").attr("x",1105).attr("y",top).attr("width",253).attr("height",h);
 const g=svg.append("g").attr("clip-path",`url(#${id})`);
 g.append("rect").attr("x",1105).attr("y",top).attr("width",253).attr("height",h).attr("fill",bands.base);
 const p=closed(ix,iy);bands.layers.forEach(([pts,c])=>g.append("path").attr("d",p(pts)).attr("fill",c));
 const l=lin(ix,iy);
 [coastAfrica,coastIndia,coastLanka,coastSumatra,coastMalay,coastIndochina,coastBorneo,coastJava,coastBali,coastFlores,coastSiberut,coastNias].forEach(c=>{g.append("path").attr("d",l(c)+"Z").attr("fill","#d1d3d4").attr("stroke","#1f1f1f").attr("stroke-width",1.9).attr("stroke-linejoin","round");});
 g.append("path").attr("d",l(inMadagascar)+"Z").attr("fill","#d1d3d4").attr("stroke","#1f1f1f").attr("stroke-width",1.9);
 svg.append("rect").attr("x",1105).attr("y",top).attr("width",253).attr("height",h).attr("fill","none").attr("stroke","#666").attr("stroke-width",1.5);
 const ax=svg.append("g");[40,60,80,100,120].forEach(v=>L(ax,ix(v),top+h,ix(v),top+h+3,"#666",1.2));[10,0,-10].forEach(v=>L(ax,1105,iy(v),1102,iy(v),"#666",1.2));
 T(svg,1113,top+h-ly,label,{a:"start",fs:26,w:lw});}
inset(733,{base:cOra,layers:[[insS.red,cRed],[insS.tanW,cTan],[insS.tanE,cTan],[insS.yel,cYel],[insS.pale,cPale],[insS.sky,cSky],[insS.mid,cB5],[insS.b4,cB4],[insS.b3,cB3]]},"Strong pIOD",132,19);
inset(1109,{base:cRed,layers:[[insM.oraNW,cOra],[insM.oraS,cOra],[insM.deep,cHot],[insM.tan,cTan],[insM.yel,cYel],[insM.pale,cPale],[insM.sky,cSky]]},"Moderate pIOD",162,16);

// ================= panel e
title("e",26,"DMI",56,58,1544.5);
const ex=d3.scaleLinear([1958,2022],[83,848]), ey=d3.scaleLinear([-2.5,2.5],[2054,1576.5]);
L(svg,ex(1990),1578,ex(1990),2054,"#7d8cab",3,"13 9");
L(svg,ex(1958),ey(0),ex(2022),ey(0),"#54688a",2.6,"11 8");
series(ex,ey,dmi);
dmiEvents.forEach(e=>svg.append("circle").attr("cx",ex(e)).attr("cy",ey(dmi[years.indexOf(e)])).attr("r",13.8).attr("fill","#3a4d6b").attr("stroke","#2c3e5c").attr("stroke-width",1));
L(svg,ex(1958),ey(dmiThreshold),ex(2022),ey(dmiThreshold),"#6d7f9c",3);
yearAxis(ex,2054);
svg.append("g").attr("transform",`translate(83,0)`).call(d3.axisLeft(ey).tickValues(d3.range(-2.4,2.41,.2).map(v=>+v.toFixed(1))).tickSize(8).tickSizeOuter(0)).call(styleAxis);
svg.append("g").attr("transform",`translate(83,0)`).call(d3.axisLeft(ey).tickValues([-2,-1,0,1,2]).tickSize(12).tickSizeOuter(0)).call(styleAxis);
[-2,-1,0,1,2].forEach(v=>T(svg,66,ey(v)+1,fmtMinus(v),{a:"end",fs:26}));
T(svg,16,1807,"DMI (°C)",{fs:25,r:-90,w:100});
yearTicksMajor.forEach(v=>T(svg,ex(v)-1,2085,v,{fs:24}));
T(svg,465,2125,"Year",{fs:27,w:52});
box(360.5,452,1990,2043,BOXG,"0.49",404);box(477.5,569,1990,2043,BOXP,"0.70",520);

// ================= panel f
title("f",983,"31-year sliding trend",1009,285,1543);
const fx=d3.scaleLinear([1958,2022],[1095.6,1879]);
const fyL=d3.scaleLinear([-.0181,.015],[1634.7,2053.4]), fyR=d3.scaleLinear([6,-6],[1634.7,2053.6]), fyB=d3.scaleLinear([.6,-.6],[1638.6,2053.8]);
L(svg,1095.6,1634.7,1890,1634.7);L(svg,1095.6,1634.7,1095.6,2053.4);L(svg,1879,1634.7,1879,2053.4);L(svg,1084,2053.4,1890,2053.4,"#333",2);
svg.append("g").attr("transform","translate(0,2053.4)").call(d3.axisBottom(fx).tickValues(yearTicksMajor).tickSize(12).tickSizeOuter(0)).call(g=>{styleAxis(g);g.select(".domain").remove();});
svg.append("g").attr("transform","translate(1095.6,0)").call(d3.axisLeft(fyL).tickValues([-.015,-.01,-.005,0,.005,.01]).tickSize(12).tickSizeOuter(0)).call(g=>{styleAxis(g);g.select(".domain").remove();});
svg.append("g").attr("transform","translate(1879,0)").call(d3.axisRight(fyR).tickValues(d3.range(-5,6)).tickSize(11).tickSizeOuter(0)).call(g=>{styleAxis(g);g.select(".domain").remove();});
svg.append("g").attr("transform","translate(1997.5,0)").call(d3.axisRight(fyB).tickValues(d3.range(-6,7).map(v=>v/10)).tickSize(10).tickSizeOuter(0)).call(styleAxis);
yearTicksMajor.forEach(v=>T(svg,fx(v)+1,2081,v,{fs:24}));
T(svg,1488,2124,"Year",{fs:27,w:52});
[[-.01,"−0.01"],[0,"0"],[.01,"0.01"]].forEach(([v,s])=>T(svg,1075.6,fyL(v)+1,s,{a:"end",fs:24}));
[[3,"3"],[0,"0"],[-3,"−3"]].forEach(([v,s])=>T(svg,1900,fyR(v)+1,s,{a:"start",fs:24}));
[[.4,"0.4"],[.2,"0.2"],[0,"0"],[-.2,"−0.2"],[-.4,"−0.4"]].forEach(([v,s])=>T(svg,2014,fyB(v)+1,s,{a:"start",fs:24}));
const fl=(xv,vals,y,c,w=4)=>svg.append("path").attr("d",d3.line().x((d,i)=>fx(xv[i])).y(d=>y(d))(vals)).attr("fill","none").attr("stroke",c).attr("stroke-width",w).attr("stroke-linejoin","miter");
fl(fYears,sstGrad,fyL,"#c8474a");fl(fYears,ctio,fyR,NAVY);fl(thermoYears,thermoDepth,fyB,"#0b75b4");
[[963,1694,43,309,"#c8474a"],[1931,1609,42,465,"#1e1e1e"],[2067,1619,42,443,"#0b75b4"]].forEach(([x,y,w,h,c])=>svg.append("rect").attr("x",x).attr("y",y).attr("width",w).attr("height",h).attr("fill",c));
T(svg,985,1848,"Zonal SST gradient (°C)",{fs:25,r:-90,w:289,fill:"#fff"});
T(svg,1952,1841,"CTIO zonal wind stress (N m⁻² ×10⁻⁴)",{fs:25,r:90,w:442,fill:"#fff"});
T(svg,2088,1840,"Eastern EIO thermocline depth (m)",{fs:25,r:90,w:428,fill:"#fff"});
</script></body></html>
